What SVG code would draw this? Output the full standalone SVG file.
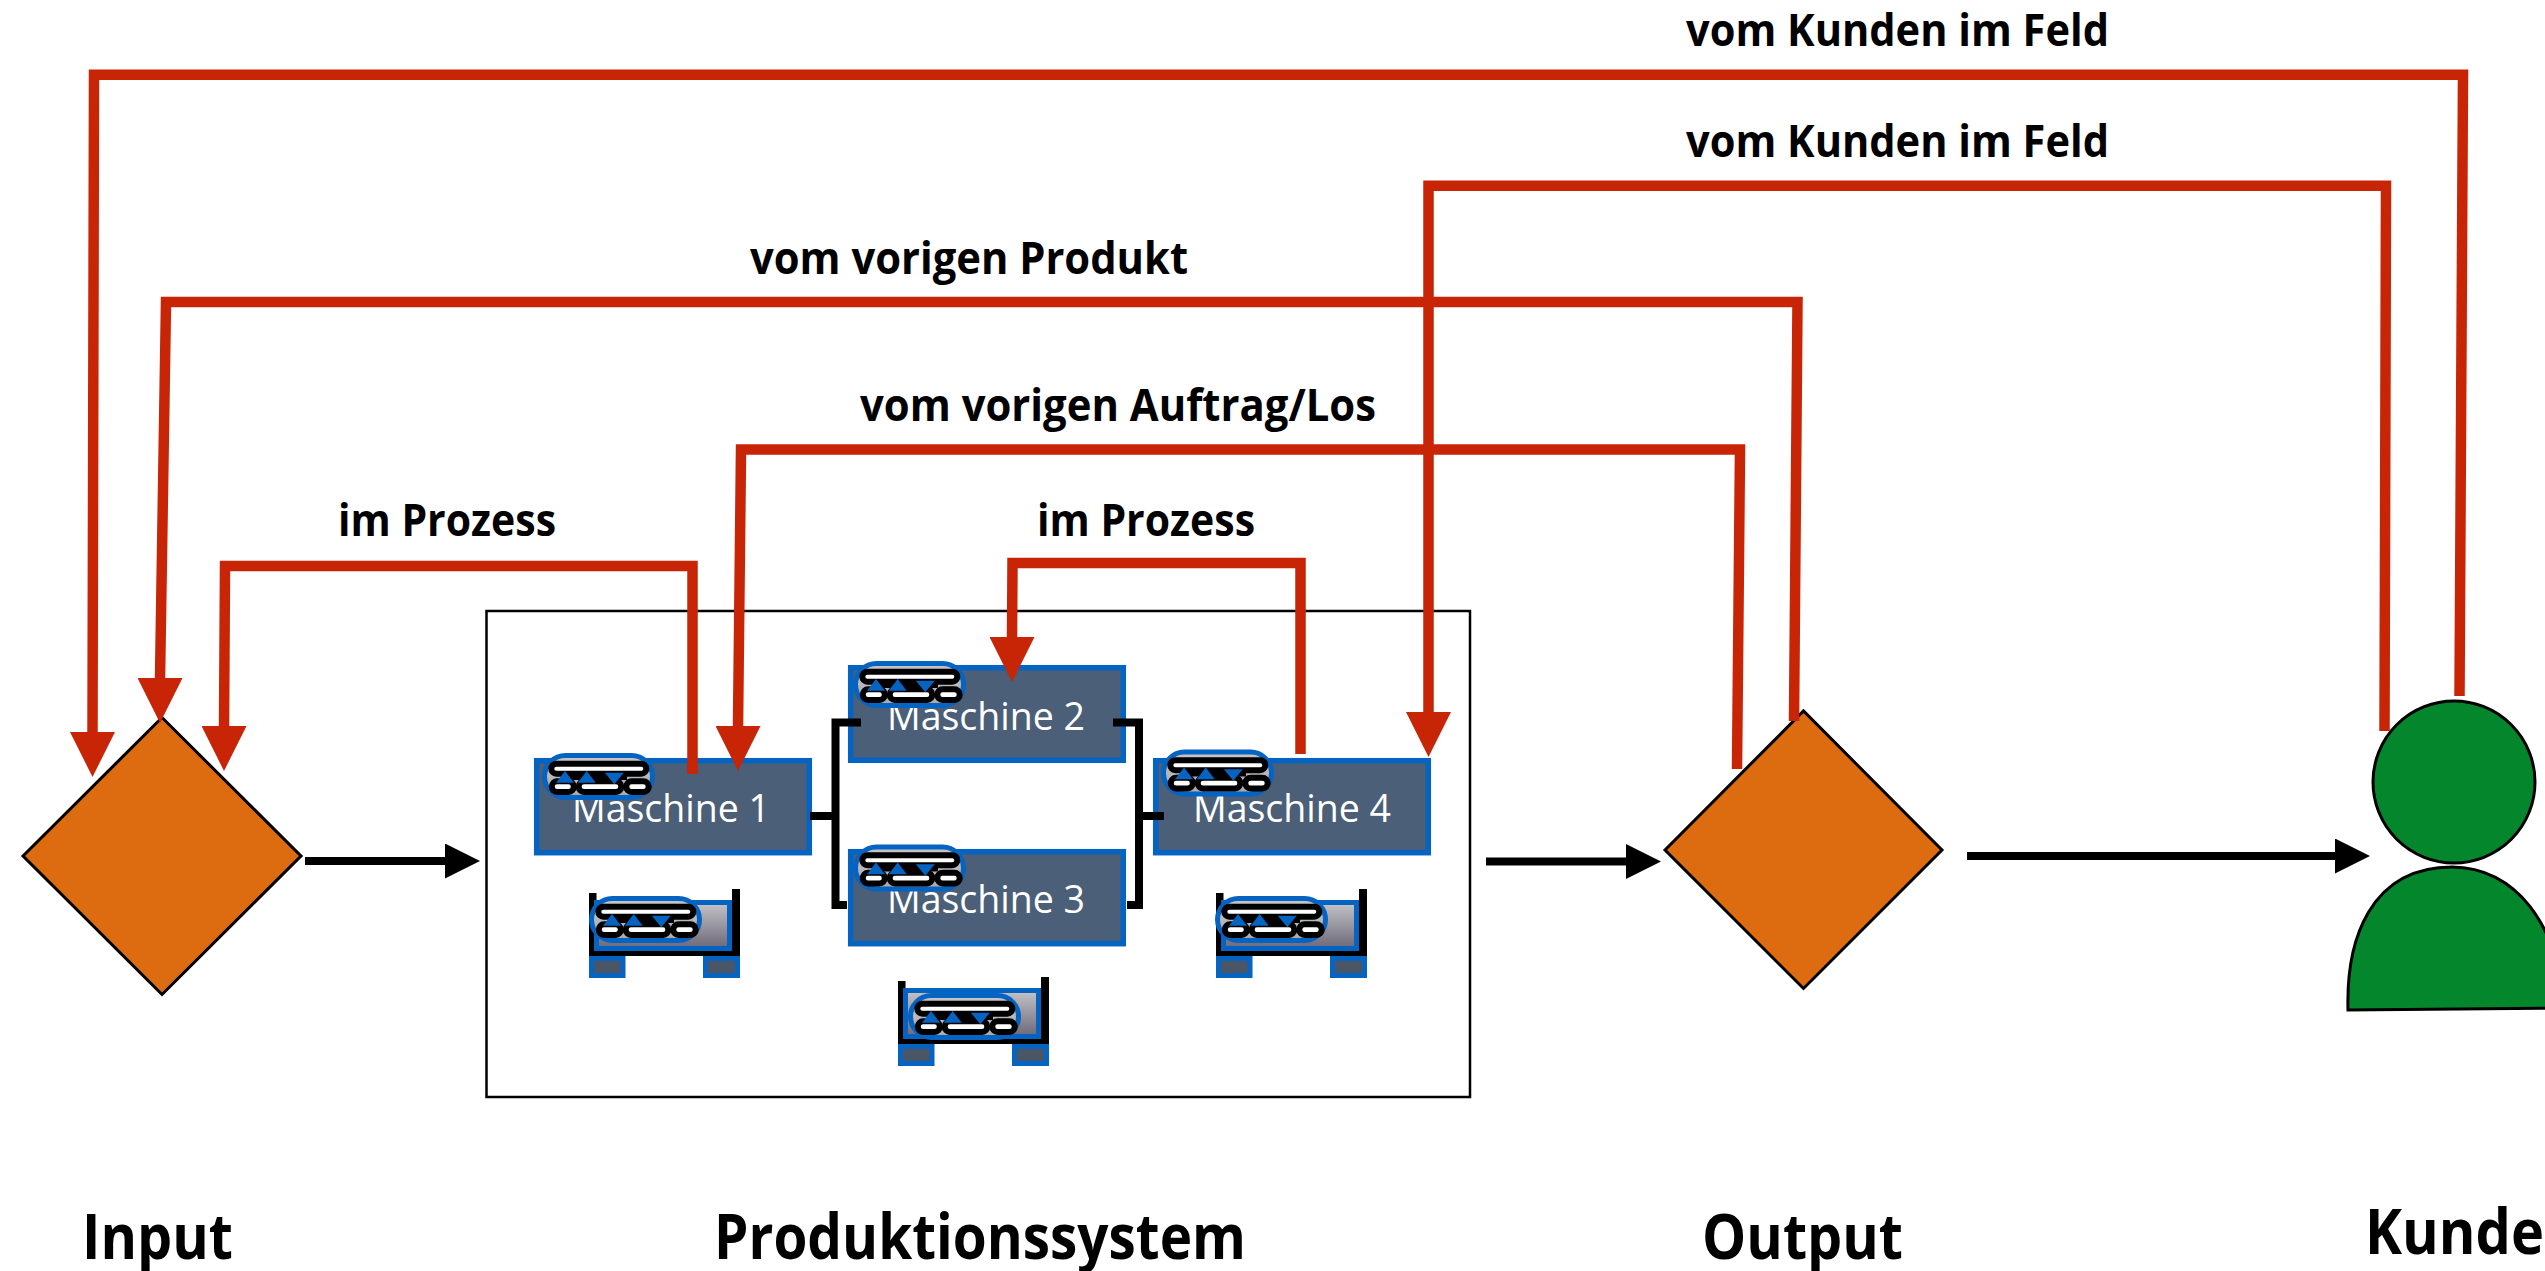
<svg xmlns="http://www.w3.org/2000/svg" xmlns:xlink="http://www.w3.org/1999/xlink" width="2545" height="1271" viewBox="0 0 2545 1271">
<style>
text{font-family:"Open Sans","Noto Sans","Liberation Sans",sans-serif}
.lbl{font-size:45px;font-weight:700;fill:#000}
.ttl{font-size:62px;font-weight:700;fill:#000}
.mt{font-size:37.500px;fill:#fff;text-anchor:middle}
.m{fill:#4b5f78;stroke:#0563c1;stroke-width:5.500}
.dia{fill:#dd6b0f;stroke:#000;stroke-width:3;stroke-linejoin:miter}
.per{fill:#04872c;stroke:#000;stroke-width:3}
.red{fill:none;stroke:#c82506;stroke-width:10.500;stroke-linejoin:miter}
.redh{marker-end:url(#rh)}
.blk{fill:none;stroke:#000;stroke-width:8}
.blkh{marker-end:url(#bh)}
.caps{stroke:#0563c1;stroke-width:5;fill:url(#capg)}
.bw{fill:#fff;stroke:#000;stroke-width:6}
.tri{fill:#0563c1}
.foot{fill:#4a5566;stroke:#0563c1;stroke-width:5}
</style>
<defs>
<linearGradient id="capg" x1="0" y1="0" x2="0" y2="1"><stop offset="0" stop-color="#c6c6ca"/><stop offset="1" stop-color="#a8a8ae"/></linearGradient>
<linearGradient id="palg" x1="0" y1="0" x2="0" y2="1"><stop offset="0" stop-color="#c4c4c8"/><stop offset="1" stop-color="#6c6878"/></linearGradient>
<marker id="rh" markerUnits="userSpaceOnUse" viewBox="0 0 45 45" markerWidth="45" markerHeight="45" refX="22.500" refY="1" orient="0"><path d="M0 0H45L22.500 45Z" fill="#c82506"/></marker>
<marker id="bh" markerUnits="userSpaceOnUse" viewBox="0 0 35 35" markerWidth="35" markerHeight="35" refX="1" refY="17.500" orient="0"><path d="M0 0L35 17.500L0 35Z" fill="#000"/></marker>
<g id="belt">
<rect class="caps" x="2.500" y="2.500" width="108" height="42" rx="21"/>
<rect x="20" y="21" width="65" height="6" fill="#000"/>
<rect class="bw" x="9.300" y="10.700" width="95" height="10" rx="5"/>
<rect class="bw" x="9.800" y="28.300" width="22" height="10.700" rx="5.300"/>
<rect class="bw" x="36.700" y="28.300" width="42.600" height="10.700" rx="5.300"/>
<rect class="bw" x="84.300" y="28.300" width="22.400" height="10.700" rx="5.300"/>
<path class="tri" d="M23 18L32 29.700H14Z"/>
<path class="tri" d="M44.700 18L53.700 29.700H35.700Z"/>
<path class="tri" d="M62.800 19.700H81.800L72.300 31.300Z"/>
</g>
<g id="pallet">
<path d="M0 4H7.500V62H143V0H151V67H0Z" fill="#000"/>
<rect x="7.500" y="13.500" width="133" height="46" fill="url(#palg)" stroke="#0563c1" stroke-width="5"/>
<rect class="foot" x="2.500" y="69.500" width="31.500" height="17"/>
<rect class="foot" x="116.500" y="69.500" width="32" height="17"/>
</g>
</defs>
<rect width="2545" height="1271" fill="#fff"/>

<g id="system"><rect x="486.500" y="611" width="983.500" height="486" fill="#fff" stroke="#000" stroke-width="2.500"/></g>

<g id="input"><path class="dia" d="M23 856L162 717.500L301 856L162 994.500Z"/></g>
<g id="output"><path class="dia" d="M1665 850L1803.500 711L1942 850L1803.500 988.500Z"/></g>
<g id="kunde">
<circle class="per" cx="2454" cy="782" r="81"/>
<path class="per" d="M2348 1010C2346 940 2370 867 2452 867C2515 867 2560 925 2562 1008Z"/>
</g>

<g id="maschine1"><rect class="m" x="536.700" y="760.700" width="272.600" height="92"/><text class="mt" x="671" y="821.500">Maschine 1</text><use href="#belt" x="542" y="753"/></g>
<g id="maschine2"><rect class="m" x="850.700" y="667.700" width="272.600" height="92.600"/><text class="mt" x="986" y="730">Maschine 2</text><use href="#belt" x="853" y="661"/></g>
<g id="maschine3"><rect class="m" x="850.700" y="851.700" width="272.600" height="92"/><text class="mt" x="986" y="913">Maschine 3</text><use href="#belt" x="853" y="844.500"/></g>
<g id="maschine4"><rect class="m" x="1155.700" y="760.700" width="272.600" height="92"/><text class="mt" x="1292" y="821.500">Maschine 4</text><use href="#belt" x="1161" y="749.500"/></g>
<g id="pallet1"><use href="#pallet" x="589" y="889"/><use href="#belt" x="589" y="896"/></g>
<g id="pallet2"><use href="#pallet" x="898" y="977"/><use href="#belt" x="908" y="993"/></g>
<g id="pallet3"><use href="#pallet" x="1216" y="889"/><use href="#belt" x="1215" y="896"/></g>

<g id="connectors">
<path class="blk" d="M810 816H836"/>
<path class="blk" d="M861 722.500H835.500V905H847"/>
<path class="blk" d="M1113 722.500H1139V905H1127"/>
<path class="blk" d="M1139 816H1164"/>
<path class="blk blkh" d="M305 861H446"/>
<path class="blk blkh" d="M1486 861.500H1627"/>
<path class="blk blkh" d="M1967 856H2336"/>
<path class="red redh" d="M2459.500 696L2463 74.700H94L92.500 733"/>
<path class="red redh" d="M1794 721L1797.500 302H166L160 679"/>
<path class="red redh" d="M1737 769L1740 449.500H741L738 727"/>
<path class="red redh" d="M692.500 774V566H225L224 727"/>
<path class="red redh" d="M1300.500 754V563H1012.500L1012 638"/>
<path class="red redh" d="M2384.500 731L2386 185.700H1428.500V713"/>
</g>

<g id="labels">
<text class="lbl" x="1686" y="45.700" textLength="423" lengthAdjust="spacingAndGlyphs">vom Kunden im Feld</text>
<text class="lbl" x="1686" y="156.700" textLength="423" lengthAdjust="spacingAndGlyphs">vom Kunden im Feld</text>
<text class="lbl" x="750" y="274" textLength="438" lengthAdjust="spacingAndGlyphs">vom vorigen Produkt</text>
<text class="lbl" x="860" y="420.500" textLength="516" lengthAdjust="spacingAndGlyphs">vom vorigen Auftrag/Los</text>
<text class="lbl" x="338" y="536" textLength="218" lengthAdjust="spacingAndGlyphs">im Prozess</text>
<text class="lbl" x="1037" y="536" textLength="218" lengthAdjust="spacingAndGlyphs">im Prozess</text>
<text class="ttl" x="82" y="1259" textLength="151" lengthAdjust="spacingAndGlyphs">Input</text>
<text class="ttl" x="714" y="1259" textLength="532" lengthAdjust="spacingAndGlyphs">Produktionssystem</text>
<text class="ttl" x="1702" y="1259" textLength="201" lengthAdjust="spacingAndGlyphs">Output</text>
<text class="ttl" x="2365" y="1254" textLength="179" lengthAdjust="spacingAndGlyphs">Kunde</text>
</g>
</svg>
